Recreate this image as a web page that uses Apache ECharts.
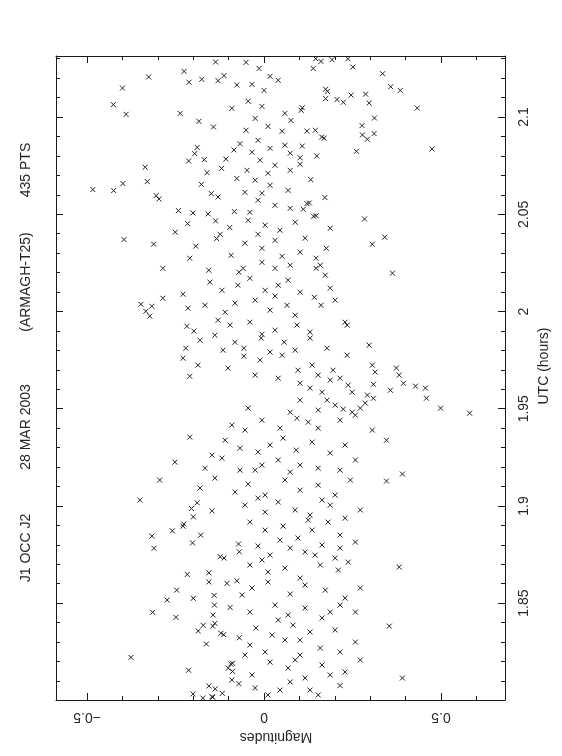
<!DOCTYPE html>
<html>
<head>
<meta charset="utf-8">
<script src="https://cdn.jsdelivr.net/npm/echarts@6/dist/echarts.min.js"></script>
<style>
html,body{margin:0;padding:0;background:#fff;}
#chart{width:562px;height:756px;}
</style>
</head>
<body>
<div id="chart"></div>
<script>
// Title pieces
const titleParts = ['J1 OCC J2', '28 MAR 2003', '(ARMAGH-T25)', '435 PTS'];
const xAxisTitle = 'Magnitudes';
const yAxisTitle = 'UTC (hours)';
// axis ranges
const magRange = [-0.588, 0.681];
const utcRange = [1.8002, 2.1314];

// observations: magnitude (one line per group, matching utcHours lines)
const magnitudes = [
-0.137,-0.226,-0.212,-0.176,-0.130,-0.113,-0.077,-0.326,-0.400,-0.426,
-0.390,-0.237,-0.184,-0.143,-0.189,-0.196,-0.213,-0.169,-0.085,-0.108,
-0.068,-0.336,-0.120,-0.161,-0.077,-0.484,-0.425,-0.399,-0.330,-0.177,
-0.305,-0.297,-0.149,-0.130,-0.242,-0.201,-0.158,-0.084,-0.216,-0.137,
-0.251,-0.097,-0.124,-0.134,-0.396,
0.146,0.161,0.192,0.237,0.139,0.251,0.335,0.358,0.385,0.174,
0.179,0.174,0.206,0.224,0.246,0.287,0.297,0.433,0.108,0.105,
0.312,0.277,0.278,0.311,0.292,0.261,0.475,0.121,0.145,0.163,
0.170,0.108,0.149,0.102,0.102,0.132,0.172,0.121,0.128,0.111,
0.140,0.147,0.284,0.341,
-0.351,-0.205,-0.189,-0.147,-0.200,-0.227,-0.229,-0.259,-0.317,-0.179,
-0.202,-0.311,-0.072,-0.070,-0.124,-0.113,-0.217,-0.156,-0.156,-0.105,
-0.077,-0.247,-0.274,-0.200,-0.141,-0.140,-0.096,-0.315,-0.249,-0.144,
-0.172,-0.145,-0.139,-0.186,-0.122,-0.114,-0.070,-0.163,-0.376,-0.213,
-0.089,-0.094,-0.101,-0.089,-0.071,-0.156,-0.138,-0.118,-0.201,-0.147,
-0.145,-0.173,
-0.051,-0.014,0.017,
-0.034,0,0.040,
-0.045,-0.006,0.059,-0.091,
-0.025,0.011,0.051,-0.051,0.076,
-0.017,0.017,0.059,0.074,-0.034,
-0.011,0.031,0.074,-0.048,0.011,
-0.025,0.017,0.068,-0.006,-0.054,
-0.017,0.031,0.074,-0.040,
-0.045,0.003,0.045,0.088,-0.017,0.187,
-0.312,-0.193,-0.093,-0.006,0.051,0.102,0.147,0.176,0.306,-0.054,
-0.156,-0.071,-0.006,0.031,0.074,0.147,0.173,-0.210,-0.286,0.159,
-0.074,0.003,0.040,0.102,0.142,-0.229,-0.153,-0.040,0.068,0.187,0.363,
-0.348,-0.317,-0.334,-0.286,-0.167,-0.082,-0.025,0.031,0.065,0.161,0.017,0.088,-0.110,-0.215,
-0.323,-0.218,-0.198,-0.096,-0.040,0.031,0.093,-0.130,0.229,0.235,-0.006,0.130,
-0.008,0.057,0.130,-0.082,-0.221,-0.116,-0.057,0.178,0.235,0.297,-0.181,0.017,0.088,
-0.229,-0.187,-0.057,-0.011,0.051,0.306,0.314,0.136,0.096,0.153,0.195,0.374,-0.210,0.382,-0.102,
0.187,0.102,0.238,0.249,0.394,0.428,0.164,0.292,0.357,0.456,0.309,0.215,0.130,0.040,
0.178,0.286,0.272,0.224,0.309,0.459,0.499,0.201,0.153,0.102,0.074,-0.045,0.249,0.581,
-0.091,-0.054,-0.006,0.045,0.093,0.125,0.153,0.215,0.258,0.306,
-0.210,-0.110,-0.068,-0.017,0.017,0.054,0.091,0.136,0.187,0.229,0.346,
-0.252,-0.167,-0.119,-0.068,-0.006,0.040,0.074,0.153,0.215,0.258,0.391,
-0.295,-0.181,-0.139,-0.082,-0.045,0.003,0.059,0.102,0.153,0.201,0.346,
-0.054,0.003,0.040,0.088,0.130,0.187,0.229,0.272,
-0.040,0.003,0.054,0.096,0.136,0.181,0.215,0.125,
-0.017,0.017,0.074,0.116,0.164,0.201,0.258,
-0.040,0.011,0.059,0.102,0.159,0.210,0.238,0.382,
-0.034,0.011,0.074,0.116,0.173,0.229,0.272,
-0.040,0.031,0.068,0.116,0.164,0.215,0.258,
-0.023,0.023,0.082,0.130,0.201,0.354,
-0.040,0.003,0.059,0.102,0.159,0.215,0.258,
-0.034,0.017,0.068,0.116,0.164,0.229,0.272,
-0.025,0.011,0.074,0.130,0.215,0.391,
-0.062,0.040,0.102,0.187,-0.006,0.144,0.045,0.215,-0.017,0.164,-0.147,0.102,0.244,-0.025,
-0.091,0.045,0.153,0.088,-0.054,0.187,0.031,0.116,-0.059,-0.119,0.201,-0.139,-0.025
];
// observations: UTC (hours)
const utcHours = [
2.1283,2.1235,2.1179,2.1194,2.1187,2.1213,2.1165,2.1206,2.1149,2.1064,
2.1014,2.1019,2.0978,2.0949,2.0844,2.0812,2.0774,2.0781,2.0831,2.0784,
2.0863,2.0742,2.0736,2.0714,2.0684,2.0627,2.0622,2.0658,2.0668,2.0654,
2.0596,2.0579,2.0606,2.0589,2.0519,2.0507,2.0502,2.0514,2.0452,2.0466,
2.0408,2.0432,2.0397,2.0375,2.0370,
2.1300,2.1286,2.1295,2.1300,2.1250,2.1257,2.1223,2.1156,2.1137,2.1143,
2.1132,2.1095,2.1090,2.1076,2.1113,2.1118,2.1072,2.1046,2.1048,2.1035,
2.0995,2.0956,2.0908,2.0915,2.0886,2.0824,2.0836,2.0928,2.0932,2.0897,
2.0892,2.0851,2.0800,2.0791,2.0757,2.0678,2.0586,2.0555,2.0558,2.0526,
2.0490,2.0493,2.0476,2.0382,
1.9030,1.8987,1.9016,1.8975,1.8944,1.8907,1.8896,1.8872,1.8845,1.8850,
1.8810,1.8782,1.8804,1.8764,1.8739,1.8732,1.8648,1.8656,1.8609,1.8602,
1.8615,1.8567,1.8516,1.8525,1.8540,1.8490,1.8478,1.8453,1.8427,1.8439,
1.8386,1.8382,1.8396,1.8357,1.8345,1.8338,1.8322,1.8290,1.8221,1.8155,
1.8191,1.8187,1.8166,1.8149,1.8086,1.8074,1.8059,1.8036,1.8033,1.8019,
1.8016,1.8012,
2.1281,2.1250,2.1209,
2.1168,2.1137,2.1189,
2.1081,2.1055,2.1019,2.1045,
2.0993,2.0952,2.0927,2.0932,2.0983,
2.0880,2.0839,2.0855,2.0814,2.0819,
2.0778,2.0752,2.0726,2.0726,2.0711,
2.0675,2.0649,2.0623,2.0608,2.0613,
2.0572,2.0546,2.0531,2.0510,
2.0469,2.0444,2.0418,2.0459,2.0397,2.0428,
2.0346,2.0336,2.0289,2.0325,2.0284,2.0305,2.0274,2.0325,2.0346,2.0351,
2.0212,2.0202,2.0253,2.0222,2.0238,2.0222,2.0187,2.0274,2.0222,2.0238,
2.0135,2.0109,2.0135,2.0099,2.0073,2.0089,2.0151,2.0171,2.0161,2.0120,2.0197,
2.0037,2.0027,2.0001,2.0068,2.0032,2.0043,2.0058,2.0079,2.0032,2.0032,2.0007,1.9981,1.9996,2.0017,
1.9976,1.9924,1.9899,1.9930,1.9945,1.9904,1.9930,1.9955,1.9945,1.9930,1.9883,1.9894,
1.9863,1.9842,1.9863,1.9842,1.9811,1.9801,1.9811,1.9811,1.9775,1.9827,1.9852,1.9791,1.9801,
1.9760,1.9724,1.9770,1.9750,1.9775,1.9724,1.9688,1.9724,1.9698,1.9673,1.9698,1.9709,1.9667,1.9673,1.9709,
1.9647,1.9631,1.9621,1.9585,1.9631,1.9616,1.9585,1.9570,1.9595,1.9606,1.9626,1.9657,1.9606,1.9657,
1.9544,1.9529,1.9503,1.9498,1.9554,1.9554,1.9503,1.9518,1.9493,1.9544,1.9482,1.9503,1.9482,1.9477,
1.9416,1.9390,1.9441,1.9400,1.9451,1.9431,1.9400,1.9441,1.9467,1.9390,
1.9354,1.9338,1.9297,1.9277,1.9313,1.9349,1.9287,1.9328,1.9272,1.9313,1.9338,
1.9225,1.9194,1.9246,1.9184,1.9210,1.9236,1.9174,1.9194,1.9184,1.9236,1.9164,
1.9133,1.9092,1.9143,1.9071,1.9112,1.9056,1.9133,1.9081,1.9107,1.9056,1.9128,
1.9004,1.8968,1.9020,1.8979,1.8953,1.9004,1.8937,1.8979,
1.8917,1.8876,1.8896,1.8835,1.8876,1.8917,1.8850,1.8927,
1.8794,1.8747,1.8783,1.8763,1.8799,1.8732,1.8814,
1.8696,1.8660,1.8680,1.8629,1.8696,1.8670,1.8711,1.8686,
1.8578,1.8609,1.8547,1.8593,1.8567,1.8526,1.8578,
1.8454,1.8490,1.8439,1.8475,1.8424,1.8490,1.8454,
1.8372,1.8336,1.8387,1.8352,1.8362,1.8382,
1.8285,1.8249,1.8310,1.8233,1.8269,1.8249,1.8300,
1.8131,1.8197,1.8166,1.8115,1.8182,1.8146,1.8208,
1.8064,1.8028,1.8095,1.8053,1.8076,1.8115,
1.8542,1.8413,1.8310,1.8454,1.8722,1.8747,1.8824,1.8783,1.9040,1.9030,1.9261,1.9210,1.9133,1.9184,
1.8105,1.8053,1.8028,1.8208,1.8233,1.8131,2.0366,2.0377,2.0222,2.0109,2.0058,1.9878,1.9673
];

const nPts = Math.min(magnitudes.length, utcHours.length);
const points = [];
for (let i = 0; i < nPts; i++) points.push([magnitudes[i], utcHours[i]]);

const FONT = '"Liberation Sans", Arial, sans-serif';
const INK = '#1a1a1a';
const TXT = '#262626';

const chart = echarts.init(document.getElementById('chart'), null, {renderer: 'canvas'});

const baseX = {
  type: 'value', min: magRange[0], max: magRange[1], splitNumber: 3,
  axisLine: {show: true, onZero: false, lineStyle: {color: INK, width: 1}},
  axisTick: {show: true, inside: true, length: 7, lineStyle: {color: INK, width: 1}},
  minorTick: {show: true, splitNumber: 5, length: 4, lineStyle: {color: INK, width: 1}},
  splitLine: {show: false}
};
const baseY = {
  type: 'value', min: utcRange[0], max: utcRange[1], splitNumber: 6,
  axisLine: {show: true, onZero: false, lineStyle: {color: INK, width: 1}},
  axisTick: {show: true, inside: true, length: 7, lineStyle: {color: INK, width: 1}},
  minorTick: {show: true, splitNumber: 5, length: 4, lineStyle: {color: INK, width: 1}},
  splitLine: {show: false}
};

const graphics = [];
const titleCenters = [548, 427, 282, 170];
titleParts.forEach((t, i) => {
  graphics.push({
    type: 'text', x: 26, y: titleCenters[i], rotation: Math.PI / 2,
    style: {text: t, font: '14px ' + FONT, fill: TXT, textAlign: 'center', textVerticalAlign: 'middle'}
  });
});
graphics.push({
  type: 'text', x: 544, y: 366, rotation: Math.PI / 2,
  style: {text: yAxisTitle, font: '14px ' + FONT, fill: TXT, textAlign: 'center', textVerticalAlign: 'middle'}
});
graphics.push({
  type: 'text', x: 276, y: 737, rotation: Math.PI,
  style: {text: xAxisTitle, font: '14px ' + FONT, fill: TXT, textAlign: 'center', textVerticalAlign: 'middle'}
});

chart.setOption({
  animation: false,
  backgroundColor: '#fff',
  grid: {left: 56, right: 57, top: 56, bottom: 56, containLabel: false},
  xAxis: [
    Object.assign({}, baseX, {
      position: 'bottom',
      axisLabel: {show: true, rotate: 180, margin: 10, color: TXT, fontSize: 14, fontFamily: FONT,
        showMinLabel: false, showMaxLabel: false,
        formatter: v => String(v).replace('-', '\u2212')}
    }),
    Object.assign({}, baseX, {position: 'top', axisLabel: {show: false}})
  ],
  yAxis: [
    Object.assign({}, baseY, {
      position: 'right',
      axisLabel: {show: true, rotate: 90, margin: 12, color: TXT, fontSize: 14, fontFamily: FONT,
        showMinLabel: false, showMaxLabel: false}
    }),
    Object.assign({}, baseY, {position: 'left', axisLabel: {show: false}})
  ],
  graphic: graphics,
  series: [{
    type: 'scatter',
    xAxisIndex: 0, yAxisIndex: 0,
    data: points,
    symbol: 'path://M0,0L10,10M10,0L0,10',
    symbolSize: 5,
    silent: true,
    itemStyle: {color: 'rgba(0,0,0,0)', borderColor: '#222', borderWidth: 1, opacity: 1}
  }]
});
</script>
</body>
</html>
